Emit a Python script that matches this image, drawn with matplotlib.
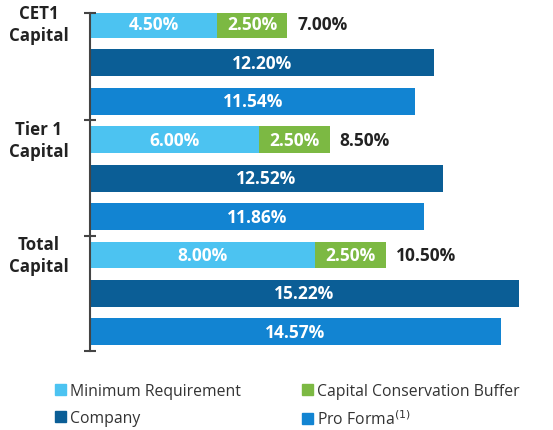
import numpy as np
import matplotlib.pyplot as plt
from matplotlib.patches import Patch

plt.rcParams['font.family'] = ['Open Sans', 'DejaVu Sans']

# Capital ratios (%)
groups = ['CET1\nCapital', 'Tier 1\nCapital', 'Total\nCapital']
minimum = [4.50, 6.00, 8.00]
buffer = [2.50, 2.50, 2.50]
company = [12.20, 12.52, 15.22]
pro_forma = [11.54, 11.86, 14.57]

c_min = '#4CC3F1'
c_buf = '#7CB943'
c_comp = '#0B5E96'
c_pro = '#1284D2'

fig = plt.figure(figsize=(5.53, 4.31), dpi=100)
ax = fig.add_axes([0.163, 0.183, 0.815, 0.785])

h = 0.70
fs = 12.5
lab = dict(color='white', fontweight='bold', fontsize=fs, ha='center', va='center')

for i in range(len(groups)):
    y0 = i * 3
    # stacked requirement bar
    ax.barh(y0, minimum[i], height=h, color=c_min)
    ax.barh(y0, buffer[i], left=minimum[i], height=h, color=c_buf)
    ax.text(minimum[i] / 2, y0, f'{minimum[i]:.2f}%', **lab)
    ax.text(minimum[i] + buffer[i] / 2, y0, f'{buffer[i]:.2f}%', **lab)
    tot = minimum[i] + buffer[i]
    ax.annotate(f'{tot:.2f}%', xy=(tot, y0), xytext=(7, 0), textcoords='offset points',
                ha='left', va='center', fontsize=fs, fontweight='bold', color='#222222')

    ax.barh(y0 + 1, company[i], height=h, color=c_comp)
    ax.text(company[i] / 2, y0 + 1, f'{company[i]:.2f}%', **lab)

    ax.barh(y0 + 2, pro_forma[i], height=h, color=c_pro)
    ax.text(pro_forma[i] / 2, y0 + 2, f'{pro_forma[i]:.2f}%', **lab)

    ax.annotate(groups[i], xy=(0, y0), xytext=(-37, 0), textcoords='offset points',
                ha='center', va='center', fontsize=12.2, fontweight='bold',
                color='#222222', linespacing=1.3)

ax.set_xlim(0, 16)
ax.set_ylim(8.5, -0.3)
ax.set_yticks([-0.3, 2.5, 5.5, 8.5])
ax.set_yticklabels([])
ax.set_xticks([])
for s in ['top', 'right', 'bottom']:
    ax.spines[s].set_visible(False)
ax.spines['left'].set_color('#444444')
ax.spines['left'].set_linewidth(1.5)
ax.tick_params(axis='y', direction='inout', length=9, width=1.5, color='#444444')

handles = [Patch(color=c_min, label='Minimum Requirement'),
           Patch(color=c_comp, label='Company'),
           Patch(color=c_buf, label='Capital Conservation Buffer'),
           Patch(color=c_pro, label='Pro Forma$^{(1)}$')]
fig.legend(handles=handles, ncol=2, loc='upper left', bbox_to_anchor=(0.0995, 0.109),
           frameon=False, fontsize=11.3, handlelength=0.7, handleheight=0.7,
           handletextpad=0.25, columnspacing=3.9, labelspacing=0.68,
           borderpad=0, borderaxespad=0, labelcolor='#333333')

fig.savefig('out.png', dpi=100)
